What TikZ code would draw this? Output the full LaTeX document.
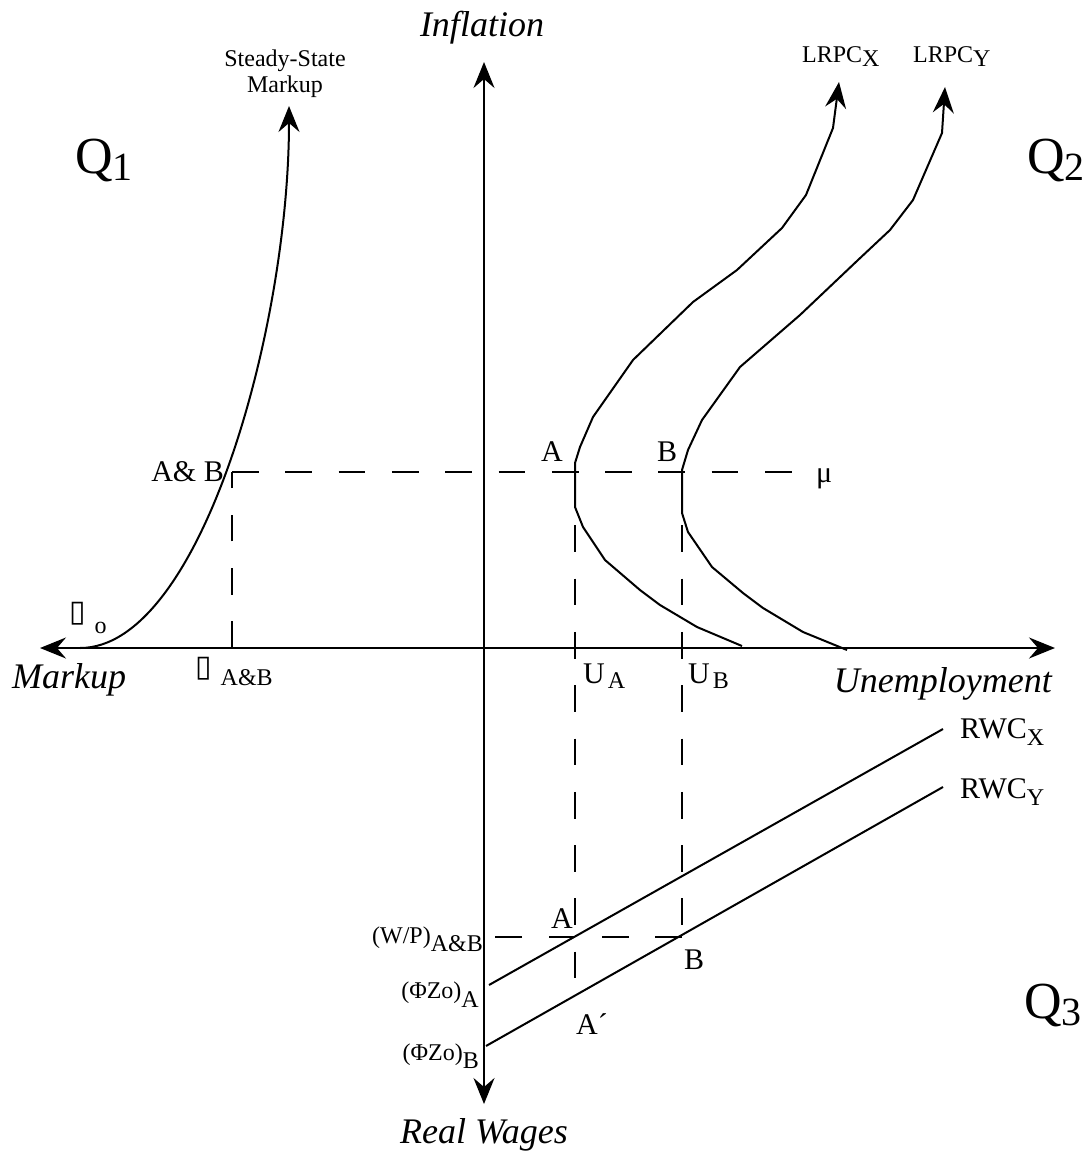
\documentclass[tikz,border=0pt]{standalone}
\usepackage{fontspec}
\setmainfont{Liberation Serif}
\newfontfamily\boxfont{DejaVu Sans}
\usepackage{tikz}
\usetikzlibrary{arrows.meta}
\newcommand{\subdown}[2]{\raisebox{-#1}{#2}}
\tikzset{tip/.tip={Stealth[length=26pt,width=21pt,inset=9pt]},axis/.style={tip-tip,line width=2.4pt},curve/.style={line width=2pt,line join=round},curvearr/.style={curve,-tip},guide/.style={line width=2.2pt,dash pattern=on 26.7pt off 26.6pt},axlbl/.style={font=\fontsize{36}{40}\selectfont\itshape,inner sep=0pt},lbl/.style={font=\fontsize{30}{32}\selectfont,inner sep=0pt},smlbl/.style={font=\fontsize{24}{26}\selectfont,inner sep=0pt},toplbl/.style={font=\fontsize{24}{26}\selectfont,inner sep=0pt},quadlbl/.style={font=\fontsize{52}{56}\selectfont,inner sep=0pt}}

\begin{document}
\begin{tikzpicture}[x=1pt,y=-1pt]
\useasboundingbox (0,0) rectangle (1086,1163);
\coordinate (O) at (484,648);
\coordinate (AB) at (232,472);
\coordinate (A) at (575,472);
\coordinate (B) at (682,472);
\coordinate (wA) at (575,937);
\coordinate (wB) at (682,937);
\draw[axis] (40,648) -- (1055,648);
\draw[axis] (484,1104) -- (484,62);
\draw[guide] (AB) -- (792,472);
\draw[guide] (232,648) -- (AB);
\draw[guide] (A) -- (575,979);
\draw[guide] (B) -- (wB);
\draw[guide] (wB) -- (484,937);
\draw[curvearr] (80,648) .. controls (200,648) and (289,330) .. (289,106);
\draw[curvearr] (742,646) -- (697,627) -- (660,605) -- (640,590) -- (605,560) -- (583,527) -- (575,507) -- (575,463) -- (580,447) -- (593,417) -- (633,360) -- (693,302) -- (737,270) -- (782,228) -- (806,195) -- (833,128) -- (839,82);
\draw[curvearr] (847,650) -- (803,632) -- (763,608) -- (743,593) -- (712,567) -- (688,532) -- (682,513) -- (682,470) -- (688,450) -- (702,420) -- (740,367) -- (800,315) -- (858,260) -- (890,230) -- (913,200) -- (942,133) -- (945,87);
\draw[curve] (489,985) -- (943,729);
\draw[curve] (486,1046) -- (943,787);
\node[axlbl] (infl) at (482,28) {Inflation};
\node[axlbl,anchor=base west] (mkup) at (12,688) {Markup};
\node[axlbl,anchor=base east] (unemp) at (1052,692) {Unemployment};
\node[axlbl] (rwage) at (484,1135) {Real Wages};
\node[quadlbl,anchor=base west] (q1) at (75,173) {Q\subdown{7pt}{\fontsize{40}{44}\selectfont 1}};
\node[quadlbl,anchor=base west] (q2) at (1027,173) {Q\subdown{7pt}{\fontsize{40}{44}\selectfont 2}};
\node[quadlbl,anchor=base west] (q3) at (1024,1018) {Q\subdown{7pt}{\fontsize{40}{44}\selectfont 3}};
\node[toplbl,align=center,anchor=north] (ssm) at (285,50) {Steady-State\\Markup};
\node[toplbl,anchor=base west] (lrpcx) at (802,62) {LRPC\subdown{4pt}{X}};
\node[toplbl,anchor=base west] (lrpcy) at (913,62) {LRPC\subdown{4pt}{Y}};
\node[lbl,anchor=base east] (lab) at (224,481) {A\& B};
\node[lbl,anchor=base west] (la) at (541,461) {A};
\node[lbl,anchor=base west] (lb) at (657,461) {B};
\node[lbl,anchor=base west] (lmu) at (816,482) {μ};
\node[lbl,anchor=base west] (ua) at (583,683) {U\hspace{3pt}\subdown{5pt}{\fontsize{24}{26}\selectfont A}};
\node[lbl,anchor=base west] (ub) at (688,683) {U\hspace{3pt}\subdown{5pt}{\fontsize{24}{26}\selectfont B}};
\node[smlbl,anchor=base west] (m0) at (69,621) {{\boxfont\fontsize{30}{32}\selectfont ▯}\hspace{9pt}\subdown{12pt}{o}};
\node[smlbl,anchor=base west] (mab) at (195,676) {{\boxfont\fontsize{30}{32}\selectfont ▯}\hspace{9pt}\subdown{9pt}{A\&B}};
\node[lbl,anchor=base west] (rwcx) at (960,738) {RWC\subdown{7pt}{\fontsize{24}{26}\selectfont X}};
\node[lbl,anchor=base west] (rwcy) at (960,798) {RWC\subdown{7pt}{\fontsize{24}{26}\selectfont Y}};
\node[lbl,anchor=base west] (lwa) at (551,928) {A};
\node[lbl,anchor=base west] (lwb) at (684,969) {B};
\node[lbl,anchor=base west] (lap) at (576,1034) {A´};
\node[smlbl,anchor=base east] (wp) at (483,943) {(W/P)\subdown{8pt}{A\&B}};
\node[smlbl,anchor=base east] (fza) at (479,998) {(ΦZo)\subdown{9pt}{A}};
\node[smlbl,anchor=base east] (fzb) at (479,1060) {(ΦZo)\subdown{8pt}{B}};
\end{tikzpicture}
\end{document}
